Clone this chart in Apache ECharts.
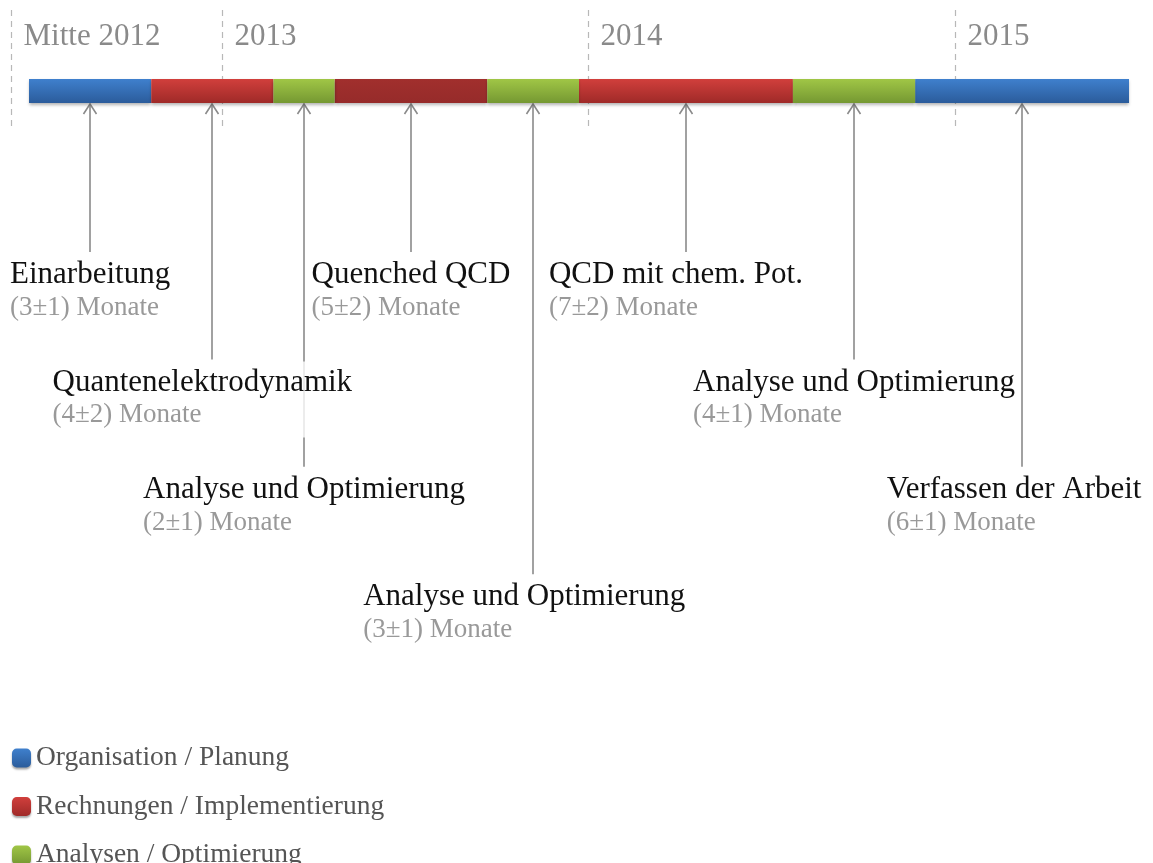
<!DOCTYPE html>
<html><head><meta charset="utf-8">
<script src="https://cdn.jsdelivr.net/npm/echarts@6/dist/echarts.min.js"></script>
<style>html,body{margin:0;padding:0;background:#fff}#c{width:1153px;height:863px}</style>
</head><body><div id="c"></div>
<script>
// ---- data ----
const tasks = ['Einarbeitung','Quantenelektrodynamik','Analyse und Optimierung','Quenched QCD','Analyse und Optimierung','QCD mit chem. Pot.','Analyse und Optimierung','Verfassen der Arbeit'];
const estimates = ['(3±1) Monate','(4±2) Monate','(2±1) Monate','(5±2) Monate','(3±1) Monate','(7±2) Monate','(4±1) Monate','(6±1) Monate'];
const barMonths = [4,4,2,5,3,7,4,7];          // length of each bar segment in months
const taskType = [0,1,2,1,2,1,2,0];           // index into categories
const darkerShade = [0,0,0,1,0,0,0,0];        // Quenched QCD drawn in a darker red
const labelRow = [0,1,2,0,3,0,1,2];           // which label row the arrow points down to
const categories = ['Organisation / Planung','Rechnungen / Implementierung','Analysen / Optimierung'];
const yearLabels = ['Mitte 2012','2013','2014','2015'];
const yearMonths = [-0.6, 6.3, 18.3, 30.3];   // months after bar start

// ---- layout / style ----
const SERIF = '"Liberation Serif","Times New Roman",serif';
const BAR_TOP = 79, BAR_H = 24, BAR_BOTTOM = BAR_TOP + BAR_H;
const YEAR_TOP = 10, YEAR_BOTTOM = 127, YEAR_LABEL_Y = 37;
const ARROW_END0 = 252, ROW_STEP = 107.4;
const LABEL_NUDGE = [0,-10,0,0,-9,-10,0,-8]; // small horizontal shifts of label blocks (px)
const COLORS = [
  ['#3f80cd','#2b5c9b'],
  ['#d13f3c','#9f2a28'],
  ['#a0c646','#759832']
];
const DARK_RED = ['#a12f2d','#962b2a'];
function grad(c){
  return new echarts.graphic.LinearGradient(0,0,0,1,[{offset:0,color:c[0]},{offset:1,color:c[1]}]);
}

// segment starts / ends / centers
const starts = [], ends = [], centers = [];
let acc = 0;
barMonths.forEach(function(m){ starts.push(acc); ends.push(acc+m); centers.push(acc+m/2); acc += m; });

const X_MIN = -29/30.556, X_MAX = (1153-29)/30.556;

function barSeries(cat){
  const data = [];
  tasks.forEach(function(t,i){ if(taskType[i]===cat) data.push([starts[i], ends[i], i]); });
  return {
    type:'custom', name: categories[cat], z: 3,
    itemStyle:{color: grad(COLORS[cat])},
    encode:{x:[0,1]},
    renderItem:function(params, api){
      const x0 = api.coord([api.value(0),0])[0];
      const x1 = api.coord([api.value(1),0])[0];
      const i = api.value(2);
      return {type:'rect', shape:{x:x0,y:BAR_TOP,width:x1-x0,height:BAR_H},
        style:{fill: darkerShade[i] ? grad(DARK_RED) : grad(COLORS[cat]),
          shadowBlur:3, shadowOffsetY:2, shadowColor:'rgba(0,0,0,0.3)'}};
    },
    data: data
  };
}

const chart = echarts.init(document.getElementById('c'));
const option = {
  animation:false,
  backgroundColor:'#fff',
  grid:{left:0,right:0,top:0,bottom:0},
  xAxis:{type:'value',min:X_MIN,max:X_MAX,show:false},
  yAxis:{type:'value',min:0,max:1,show:false},
  legend:{
    orient:'vertical', left:12, top:744, height:150, padding:0,
    itemWidth:19, itemHeight:19, itemGap:20.5,
    icon:'roundRect', selectedMode:false,
    data: categories,
    itemStyle:{shadowBlur:2, shadowOffsetY:2, shadowColor:'rgba(0,0,0,0.35)'},
    textStyle:{fontFamily:SERIF, fontSize:27.5, lineHeight:26, color:'#555'}
  },
  series:[
    { // year marks
      type:'custom', z:1, silent:true,
      encode:{x:0},
      data: yearMonths.map(function(m,i){ return [m,i]; }),
      renderItem:function(params, api){
        const x = Math.round(api.coord([api.value(0),0])[0]) + 0.5;
        const i = api.value(1);
        return {type:'group', children:[
          {type:'line', shape:{x1:x,y1:YEAR_TOP,x2:x,y2:YEAR_BOTTOM},
            style:{stroke:'#b8b8b8', lineWidth:1.2, lineDash:[6,5]}},
          {type:'text', x:x+12, y:YEAR_LABEL_Y,
            style:{text:yearLabels[i], fill:'#8a8a8a', font:'31px '+SERIF, align:'left', verticalAlign:'middle'}}
        ]};
      }
    },
    barSeries(0), barSeries(1), barSeries(2),
    { // arrows
      type:'custom', z:2, silent:true,
      encode:{x:0},
      data: tasks.map(function(t,i){ return [centers[i], labelRow[i], i]; }),
      renderItem:function(params, api){
        const x = Math.round(api.coord([api.value(0),0])[0]);
        const yEnd = ARROW_END0 + api.value(1)*ROW_STEP;
        const st = {stroke:'#8a8a8a', lineWidth:1.6, fill:null};
        return {type:'group', children:[
          {type:'line', shape:{x1:x,y1:BAR_BOTTOM+1,x2:x,y2:yEnd}, style:st},
          {type:'polyline', shape:{points:[[x-6.5,BAR_BOTTOM+11],[x,BAR_BOTTOM+1],[x+6.5,BAR_BOTTOM+11]]}, style:st}
        ]};
      }
    },
    { // labels
      type:'custom', z:5, silent:true,
      encode:{x:0},
      data: tasks.map(function(t,i){ return [centers[i], labelRow[i], i]; }),
      renderItem:function(params, api){
        const i = api.value(2);
        const x = api.coord([api.value(0),0])[0] + LABEL_NUDGE[i];
        const top = ARROW_END0 + api.value(1)*ROW_STEP + 2;
        return {type:'text', x:x, y:top,
          style:{
            text:'{t|'+tasks[i]+'}\n{s|'+estimates[i]+'}',
            align:'center', verticalAlign:'top',
            backgroundColor:'rgba(255,255,255,0.8)',
            padding:[4,6,6,6],
            rich:{
              t:{fontFamily:SERIF, fontSize:31, lineHeight:34, fill:'#111', align:'left'},
              s:{fontFamily:SERIF, fontSize:27, lineHeight:32, fill:'#999', align:'left'}
            }
          }};
      }
    }
  ]
};
chart.setOption(option);
</script>
</body></html>
